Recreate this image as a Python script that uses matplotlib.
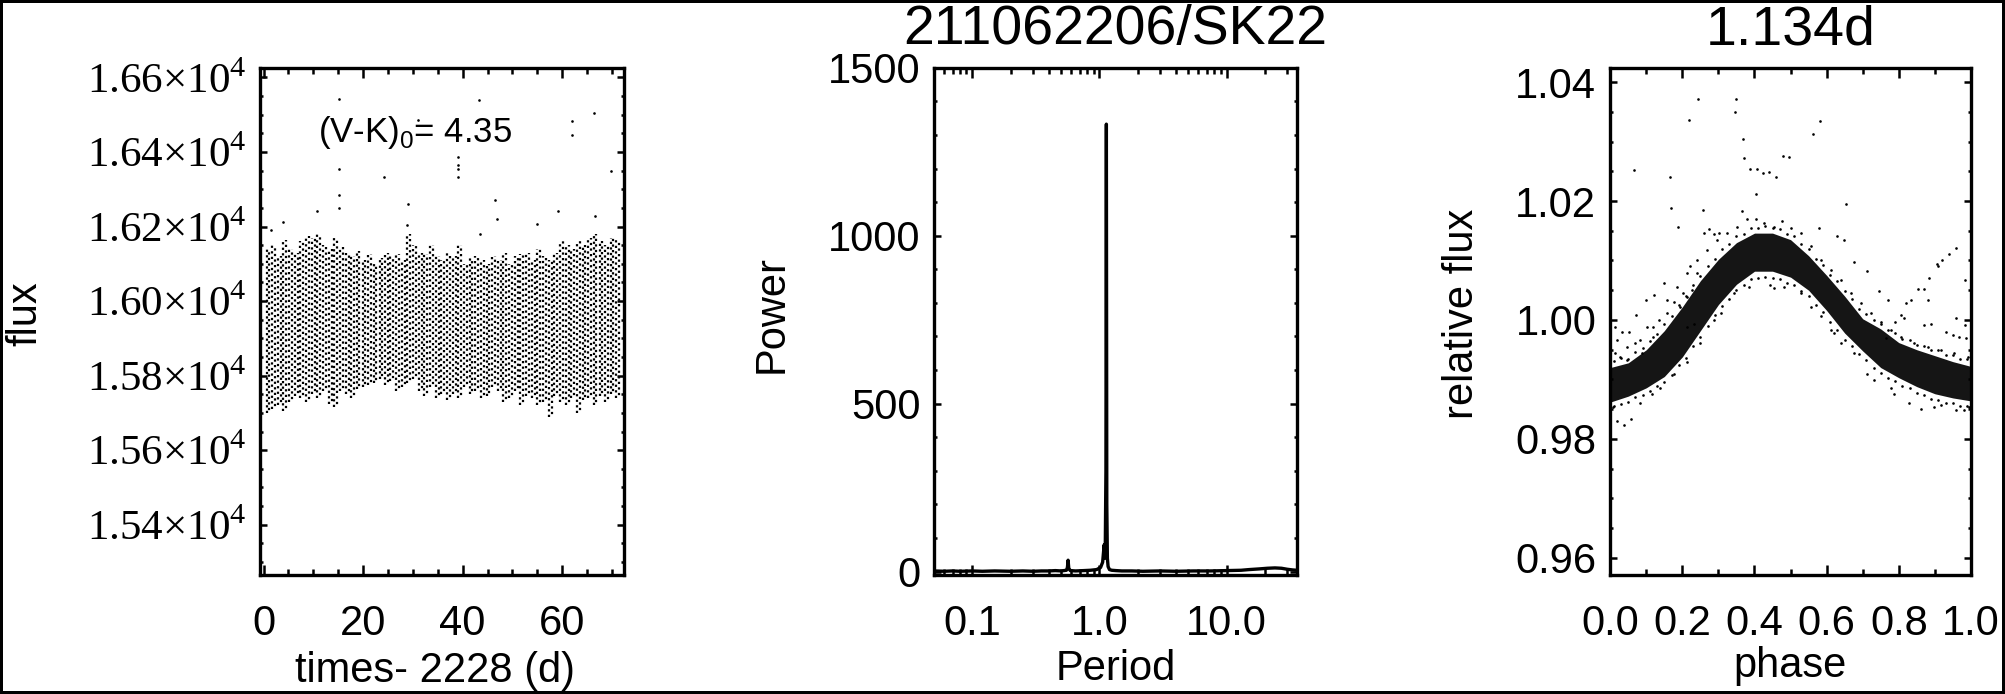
import matplotlib
matplotlib.use('Agg')
import matplotlib.pyplot as plt
import numpy as np
from matplotlib.ticker import FixedLocator, FixedFormatter, MultipleLocator, LogLocator, NullFormatter

plt.rcParams['font.family'] = ['Liberation Sans', 'DejaVu Sans']
plt.rcParams['mathtext.fontset'] = 'custom'
plt.rcParams['mathtext.rm'] = 'Liberation Serif'
plt.rcParams['mathtext.sf'] = 'Liberation Sans'

# --- panel 1: light curve, one streak per rotation cycle (range)
col_t = [0.6, 1.7, 2.9, 4.0, 5.1, 6.3, 7.4, 8.5, 9.7, 10.8, 11.9, 13.1, 14.2, 15.3, 16.5, 17.6,
         18.7, 19.9, 21.0, 22.1, 23.3, 24.4, 25.5, 26.7, 27.8, 28.9, 30.1, 31.2, 32.3, 33.5, 34.6, 35.7,
         36.9, 38.0, 39.1, 40.3, 41.4, 42.5, 43.7, 44.8, 45.9, 47.1, 48.2, 49.3, 50.5, 51.6, 52.7, 53.9,
         55.0, 56.1, 57.3, 58.4, 59.5, 60.7, 61.8, 62.9, 64.1, 65.2, 66.3, 67.5, 68.6, 69.7, 70.9]
col_hi = [16140, 16150, 16120, 16165, 16140, 16130, 16160, 16175, 16170, 16180, 16150, 16140, 16170, 16145, 16130, 16120,
          16135, 16110, 16125, 16100, 16115, 16130, 16120, 16125, 16110, 16180, 16150, 16130, 16125, 16150, 16120, 16110,
          16130, 16120, 16150, 16100, 16115, 16120, 16110, 16100, 16120, 16110, 16130, 16100, 16120, 16125, 16130, 16110,
          16140, 16120, 16110, 16130, 16160, 16150, 16140, 16160, 16150, 16170, 16180, 16160, 16150, 16170, 16165]
col_lo = [15700, 15710, 15720, 15705, 15730, 15745, 15740, 15730, 15750, 15740, 15760, 15725, 15715, 15760, 15750, 15740,
          15765, 15770, 15775, 15780, 15790, 15775, 15785, 15760, 15770, 15780, 15790, 15760, 15745, 15770, 15740, 15750,
          15735, 15750, 15740, 15770, 15750, 15760, 15740, 15745, 15770, 15760, 15730, 15740, 15760, 15720, 15745, 15740,
          15720, 15730, 15690, 15745, 15730, 15720, 15740, 15700, 15735, 15740, 15720, 15745, 15730, 15750, 15740]
# isolated high points
out_t = [15.2, 15.2, 15.2, 15.2, 24.1, 29.1, 28.8, 39.0, 39.0, 39.0, 39.0, 43.3, 31.0, 46.5,
         46.8, 54.9, 10.7, 4.0, 1.6, 62.0, 62.0, 66.3, 59.2, 69.8, 66.5, 43.4]
out_f = [16541, 16353, 16284, 16251, 16332, 16260, 16205, 16387, 16366, 16355, 16334, 16540, 16487, 16271,
         16219, 16208, 16241, 16213, 16190, 16483, 16445, 16505, 16242, 16350, 16228, 16179]

# --- panel 2: periodogram
period = [0.05, 0.06, 0.07, 0.08, 0.10, 0.12, 0.15, 0.20, 0.25, 0.30, 0.35, 0.40, 0.45, 0.50, 0.55,
          0.560, 0.567, 0.574, 0.59, 0.65, 0.75, 0.85, 0.95, 1.02, 1.06, 1.09, 1.11, 1.125, 1.134,
          1.143, 1.155, 1.17, 1.20, 1.25, 1.35, 1.5, 1.8, 2.2, 3.0, 4.0, 5.5, 7.5, 10.0, 13.0, 15.0,
          18.0, 21.0, 24.0, 27.0, 30.0, 33.0, 35.7]
power = [2, 1, 2, 1, 2, 1, 2, 1, 2, 1, 2, 2, 3, 2, 4,
         12, 34, 10, 3, 2, 3, 4, 6, 12, 28, 80, 40, 300, 1332,
         200, 40, 15, 6, 4, 3, 2, 2, 1, 2, 1, 2, 2, 3, 4, 6,
         8, 10, 11, 10, 7, 5, 4]

# --- panel 3: phased light curve, dense core of the band plus scattered points
band_ph = [0.00, 0.05, 0.10, 0.15, 0.20, 0.25, 0.30, 0.35, 0.40, 0.45, 0.50,
           0.55, 0.60, 0.65, 0.70, 0.75, 0.80, 0.85, 0.90, 0.95, 1.00]
band_hi = [0.9920, 0.9928, 0.9950, 0.9982, 1.0022, 1.0066, 1.0102, 1.0130, 1.0146, 1.0146, 1.0135,
           1.0108, 1.0075, 1.0040, 1.0002, 0.9985, 0.9962, 0.9950, 0.9940, 0.9930, 0.9922]
band_lo = [0.9862, 0.9872, 0.9886, 0.9905, 0.9938, 0.9982, 1.0026, 1.0060, 1.0082, 1.0082, 1.0072,
           1.0050, 1.0016, 0.9978, 0.9948, 0.9920, 0.9903, 0.9888, 0.9876, 0.9869, 0.9864]
# ragged edges of the band
edge_ph = [0.01, 0.03, 0.05, 0.07, 0.09, 0.11, 0.13, 0.15, 0.17, 0.19, 0.21, 0.23, 0.25, 0.27, 0.29,
           0.31, 0.33, 0.35, 0.37, 0.39, 0.41, 0.43, 0.45, 0.47, 0.49, 0.51, 0.53, 0.55, 0.57, 0.59,
           0.61, 0.63, 0.65, 0.67, 0.69, 0.71, 0.73, 0.75, 0.77, 0.79, 0.81, 0.83, 0.85, 0.87, 0.89,
           0.91, 0.93, 0.95, 0.97, 0.99]
edge_up = [0.9931, 0.9936, 0.9934, 0.9946, 0.9953, 0.9965, 0.9976, 0.9993, 1.0006, 1.0025, 1.0040, 1.0059,
           1.0074, 1.0091, 1.0103, 1.0119, 1.0127, 1.0141, 1.0144, 1.0154, 1.0155, 1.0158, 1.0154, 1.0153,
           1.0145, 1.0141, 1.0127, 1.0119, 1.0103, 1.0093, 1.0076, 1.0065, 1.0048, 1.0036, 1.0018, 1.0010,
           1.0000, 0.9996, 0.9984, 0.9978, 0.9968, 0.9966, 0.9958, 0.9957, 0.9950, 0.9949, 0.9942, 0.9941,
           0.9935, 0.9934]
edge_dn = [0.9855, 0.9859, 0.9862, 0.9870, 0.9874, 0.9881, 0.9889, 0.9896, 0.9908, 0.9924, 0.9936, 0.9956,
           0.9972, 0.9990, 1.0008, 1.0024, 1.0036, 1.0051, 1.0058, 1.0069, 1.0071, 1.0073, 1.0070, 1.0069,
           1.0063, 1.0059, 1.0048, 1.0041, 1.0025, 1.0014, 0.9997, 0.9984, 0.9967, 0.9957, 0.9943, 0.9933,
           0.9920, 0.9911, 0.9902, 0.9897, 0.9889, 0.9885, 0.9877, 0.9874, 0.9867, 0.9866, 0.9861, 0.9860,
           0.9856, 0.9856]
ph_pts = [0.065, 0.167, 0.169, 0.187, 0.219, 0.243, 0.256, 0.275, 0.345, 0.349, 0.367, 0.370, 0.387, 0.406,
          0.424, 0.441, 0.459, 0.404, 0.364, 0.478, 0.496, 0.563, 0.581, 0.654, 0.648, 0.630, 0.579, 0.287,
          0.301, 0.259,
          0.676, 0.713, 0.745, 0.769, 0.819, 0.833, 0.852, 0.869, 0.884, 0.882, 0.906, 0.910, 0.921, 0.940,
          0.958, 0.984, 0.958, 0.984, 0.806, 0.815, 0.790, 0.870, 0.889, 0.931, 0.949, 0.968, 0.986, 0.764,
          0.014, 0.032, 0.051, 0.072, 0.099, 0.121, 0.148, 0.069, 0.088, 0.046, 0.019, 0.028, 0.102, 0.120,
          0.135, 0.157, 0.176, 0.201, 0.194, 0.213, 0.227, 0.222, 0.241, 0.213, 0.231,
          0.019, 0.039, 0.057, 0.009, 0.083, 0.116, 0.139, 0.176, 0.213, 0.250, 0.287, 0.306, 0.343, 0.384,
          0.444, 0.454, 0.481, 0.528, 0.556, 0.583, 0.611, 0.620, 0.639, 0.676, 0.713, 0.731, 0.778, 0.787,
          0.829, 0.861, 0.898, 0.917, 0.958, 0.981, 0.995,
          0.014, 0.046, 0.083, 0.120, 0.157, 0.185, 0.213, 0.241, 0.269, 0.296, 0.324, 0.352, 0.380, 0.403,
          0.426, 0.454, 0.477, 0.500, 0.528, 0.556, 0.583, 0.611, 0.639, 0.667, 0.694, 0.722, 0.750, 0.778,
          0.806, 0.843, 0.880, 0.917, 0.954, 0.991]
rf_pts = [1.0252, 1.0240, 1.0188, 1.0157, 1.0336, 1.0371, 1.0185, 1.0153, 1.0350, 1.0372, 1.0305, 1.0272,
          1.0254, 1.0253, 1.0247, 1.0249, 1.0240, 1.0211, 1.0183, 1.0275, 1.0274, 1.0312, 1.0335, 1.0195,
          1.0134, 1.0142, 1.0154, 1.0145, 1.0146, 1.0146,
          1.0098, 1.0083, 1.0049, 1.0034, 1.0028, 1.0033, 1.0052, 1.0052, 1.0070, 1.0034, 1.0094, 1.0090,
          1.0101, 1.0111, 1.0121, 1.0067, 1.0003, 0.9992, 1.0008, 1.0003, 0.9997, 0.9992, 0.9994, 0.9980,
          0.9975, 0.9972, 0.9969, 0.9969,
          0.9989, 0.9980, 0.9979, 1.0008, 1.0034, 1.0042, 1.0063, 0.9961, 0.9944, 0.9933, 0.9966, 0.9938,
          0.9989, 0.9972, 1.0000, 1.0011, 1.0031, 1.0045, 1.0022, 1.0039, 1.0051, 1.0090, 1.0079, 0.9989,
          0.9994,
          0.9831, 0.9823, 0.9834, 0.9854, 0.9860, 0.9876, 0.9885, 0.9910, 0.9930, 0.9961, 1.0000, 1.0011,
          1.0045, 1.0056, 1.0059, 1.0054, 1.0056, 1.0045, 1.0022, 1.0006, 0.9983, 0.9978, 0.9961, 0.9944,
          0.9910, 0.9899, 0.9885, 0.9876, 0.9860, 0.9851, 0.9854, 0.9857, 0.9848, 0.9848, 0.9854,
          0.9944, 0.9955, 0.9966, 0.9989, 1.0034, 1.0056, 1.0079, 1.0101, 1.0118, 1.0135, 1.0146, 1.0157,
          1.0169, 1.0170, 1.0163, 1.0157, 1.0166, 1.0154, 1.0146, 1.0124, 1.0101, 1.0084, 1.0067, 1.0045,
          1.0028, 1.0011, 0.9994, 0.9983, 0.9972, 0.9961, 0.9955, 0.9949, 0.9944, 0.9938]

fig = plt.figure(figsize=(20.05, 6.94), dpi=100, edgecolor='black', linewidth=4)
ax1 = fig.add_axes([0.1297, 0.1720, 0.1815, 0.7304])
ax2 = fig.add_axes([0.4660, 0.1720, 0.1808, 0.7304])
ax3 = fig.add_axes([0.8031, 0.1720, 0.1799, 0.7304])


def idl_style(ax):
    for s in ax.spines.values():
        s.set_linewidth(2.4)
    ax.tick_params(which='both', direction='in', top=True, right=True, width=1.8,
                   labelsize=30, colors='black')
    ax.tick_params(axis='x', which='major', length=7, pad=21)
    ax.tick_params(axis='x', which='minor', length=4)
    ax.tick_params(axis='y', which='major', length=5, pad=10)
    ax.tick_params(axis='y', which='minor', length=2.5)


# Panel 1
t_arr = np.array(col_t)
ax1.vlines(t_arr, col_lo, col_hi, colors='black', linewidth=1.6, linestyles=(0, (1, 1.5)))
ax1.vlines(t_arr + 0.57, col_lo, col_hi, colors='black', linewidth=1.6, linestyles=(1.2, (1, 1.5)))
ax1.plot(out_t, out_f, 'o', color='black', ms=1.9, mew=0)
ax1.set_xlim(-0.7, 72.4)
ax1.set_ylim(15266, 16626)
idl_style(ax1)
ax1.xaxis.set_major_locator(FixedLocator([0, 20, 40, 60]))
ax1.xaxis.set_minor_locator(MultipleLocator(5))
yt = [15400, 15600, 15800, 16000, 16200, 16400, 16600]
ax1.yaxis.set_major_locator(FixedLocator(yt))
ax1.yaxis.set_major_formatter(FixedFormatter(['%.2f\u00d710$^{4}$' % (v / 1e4) for v in yt]))
ax1.yaxis.set_minor_locator(MultipleLocator(50))
for lab in ax1.get_yticklabels():
    lab.set_fontfamily('Liberation Serif')
    lab.set_fontsize(31)
ax1.text(10.9, 16427, '(V-K)$_{\\mathsf{0}}$= 4.35', fontsize=25, va='baseline')
ax1.set_xlabel('times- 2228 (d)', fontsize=30)
ax1.set_ylabel('flux', fontsize=30)
ax1.xaxis.set_label_coords(0.48, -0.151)
ax1.yaxis.set_label_coords(-0.59, 0.514)

# Panel 2
ax2.plot(period, power, color='black', lw=2.4)
ax2.set_xscale('log')
ax2.set_xlim(0.0503, 35.7)
ax2.set_ylim(-9, 1500)
idl_style(ax2)
ax2.xaxis.set_major_locator(FixedLocator([0.1, 1.0, 10.0]))
ax2.xaxis.set_major_formatter(FixedFormatter(['0.1', '1.0', '10.0']))
ax2.xaxis.set_minor_locator(LogLocator(base=10, subs=np.arange(2, 10), numticks=20))
ax2.xaxis.set_minor_formatter(NullFormatter())
ax2.yaxis.set_major_locator(FixedLocator([0, 500, 1000, 1500]))
ax2.yaxis.set_minor_locator(MultipleLocator(100))
ax2.set_title('211062206/SK22', fontsize=40, y=1.046, pad=0)
ax2.set_xlabel('Period', fontsize=30)
ax2.set_ylabel('Power', fontsize=30)
ax2.xaxis.set_label_coords(0.50, -0.146)
ax2.yaxis.set_label_coords(-0.393, 0.514)

# Panel 3
ax3.fill_between(band_ph, band_lo, band_hi, color='#151515', linewidth=0)
ax3.plot(edge_ph, edge_up, 'o', color='black', ms=1.9, mew=0)
ax3.plot(edge_ph, edge_dn, 'o', color='black', ms=1.9, mew=0)
ax3.plot(ph_pts, rf_pts, 'o', color='black', ms=1.9, mew=0)
ax3.set_xlim(0, 1)
ax3.set_ylim(0.9572, 1.0424)
idl_style(ax3)
ax3.xaxis.set_major_locator(FixedLocator([0.0, 0.2, 0.4, 0.6, 0.8, 1.0]))
ax3.xaxis.set_major_formatter(FixedFormatter(['0.0', '0.2', '0.4', '0.6', '0.8', '1.0']))
ax3.xaxis.set_minor_locator(MultipleLocator(0.1))
ax3.yaxis.set_major_locator(FixedLocator([0.96, 0.98, 1.00, 1.02, 1.04]))
ax3.yaxis.set_major_formatter(FixedFormatter(['0.96', '0.98', '1.00', '1.02', '1.04']))
ax3.yaxis.set_minor_locator(MultipleLocator(0.005))
ax3.set_title('1.134d', fontsize=40, y=1.046, pad=0)
ax3.set_xlabel('phase', fontsize=30)
ax3.set_ylabel('relative flux', fontsize=30)
ax3.xaxis.set_label_coords(0.498, -0.141)
ax3.yaxis.set_label_coords(-0.356, 0.514)

fig.savefig('out.png', dpi=100)
